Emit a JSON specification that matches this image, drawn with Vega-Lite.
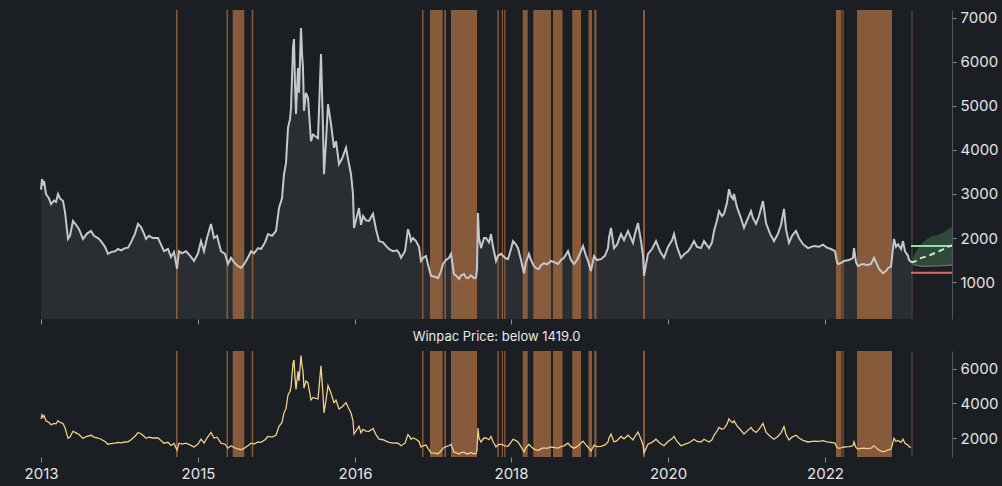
{
"$schema": "https://vega.github.io/schema/vega-lite/v6.json",
"background": "#1b1e22",
"padding": {"left": 24, "top": 9, "right": 20, "bottom": 20},
"bounds": "flush",
"spacing": 32,
"config": {
  "view": {"stroke": null},
  "font": "Inter",
  "axis": {"labelColor": "#e4e4e4", "labelFontSize": 15, "labelFont": "Inter", "tickColor": "#8a9097", "domainColor": "#4e545b", "grid": false, "labelFlush": false},
  "title": {"color": "#e8e8e8", "fontSize": 13, "fontWeight": "normal", "font": "Inter"}
},
"datasets": {
  "price": [
    {"i":0,"v":3100},{"i":1,"v":3340},{"i":2,"v":3200},{"i":3,"v":3300},{"i":5,"v":3000},{"i":8,"v":2900},{"i":10,"v":2770},{"i":13,"v":2850},{"i":15,"v":2820},{"i":17,"v":3000},{"i":19,"v":2900},{"i":22,"v":2840},{"i":24,"v":2600},{"i":27,"v":1980},{"i":29,"v":2050},{"i":32,"v":2390},{"i":35,"v":2300},{"i":38,"v":2200},{"i":42,"v":1980},{"i":46,"v":2100},{"i":50,"v":2160},{"i":53,"v":2050},{"i":57,"v":2000},{"i":60,"v":1930},{"i":64,"v":1800},{"i":67,"v":1640},{"i":70,"v":1680},{"i":74,"v":1700},{"i":77,"v":1750},{"i":80,"v":1720},{"i":84,"v":1770},{"i":87,"v":1780},{"i":90,"v":1900},{"i":94,"v":2100},{"i":97,"v":2320},{"i":100,"v":2250},{"i":103,"v":2100},{"i":105,"v":1980},{"i":108,"v":2050},{"i":112,"v":2000},{"i":117,"v":2000},{"i":120,"v":1850},{"i":123,"v":1700},{"i":127,"v":1750},{"i":130,"v":1570},{"i":133,"v":1680},{"i":136,"v":1300},{"i":138,"v":1700},{"i":141,"v":1650},{"i":145,"v":1700},{"i":149,"v":1600},{"i":153,"v":1480},{"i":157,"v":1650},{"i":160,"v":1930},{"i":163,"v":1700},{"i":166,"v":2000},{"i":170,"v":2320},{"i":173,"v":2000},{"i":176,"v":2050},{"i":180,"v":1700},{"i":184,"v":1640},{"i":187,"v":1410},{"i":190,"v":1550},{"i":193,"v":1450},{"i":196,"v":1380},{"i":200,"v":1320},{"i":203,"v":1400},{"i":205,"v":1480},{"i":208,"v":1600},{"i":210,"v":1700},{"i":213,"v":1650},{"i":217,"v":1770},{"i":220,"v":1750},{"i":224,"v":1900},{"i":227,"v":2090},{"i":231,"v":2050},{"i":235,"v":2160},{"i":238,"v":2680},{"i":241,"v":2900},{"i":243,"v":3450},{"i":245,"v":3700},{"i":247,"v":4500},{"i":249,"v":4700},{"i":250,"v":4950},{"i":252,"v":6320},{"i":253,"v":6520},{"i":254,"v":5500},{"i":255,"v":4820},{"i":257,"v":5860},{"i":258,"v":5300},{"i":260,"v":6770},{"i":261,"v":6200},{"i":262,"v":5860},{"i":263,"v":4890},{"i":265,"v":5300},{"i":267,"v":5180},{"i":270,"v":4200},{"i":272,"v":4350},{"i":275,"v":4300},{"i":277,"v":4270},{"i":280,"v":6180},{"i":282,"v":4500},{"i":283,"v":3450},{"i":285,"v":4200},{"i":287,"v":5040},{"i":290,"v":4590},{"i":293,"v":4050},{"i":295,"v":4200},{"i":298,"v":3680},{"i":301,"v":3800},{"i":305,"v":4050},{"i":307,"v":3800},{"i":310,"v":3450},{"i":312,"v":3000},{"i":313,"v":2230},{"i":316,"v":2500},{"i":318,"v":2680},{"i":320,"v":2300},{"i":322,"v":2500},{"i":325,"v":2400},{"i":328,"v":2390},{"i":332,"v":2550},{"i":335,"v":2200},{"i":338,"v":1930},{"i":342,"v":1900},{"i":345,"v":1820},{"i":348,"v":1750},{"i":352,"v":1700},{"i":356,"v":1720},{"i":358,"v":1660},{"i":360,"v":1550},{"i":364,"v":1700},{"i":367,"v":2200},{"i":369,"v":2050},{"i":370,"v":1930},{"i":372,"v":2000},{"i":375,"v":1930},{"i":378,"v":1800},{"i":380,"v":1480},{"i":382,"v":1550},{"i":385,"v":1590},{"i":387,"v":1400},{"i":390,"v":1140},{"i":394,"v":1120},{"i":397,"v":1090},{"i":400,"v":1250},{"i":402,"v":1410},{"i":405,"v":1500},{"i":408,"v":1550},{"i":410,"v":1640},{"i":413,"v":1180},{"i":415,"v":1150},{"i":418,"v":1070},{"i":420,"v":1150},{"i":423,"v":1180},{"i":425,"v":1100},{"i":427,"v":1090},{"i":430,"v":1150},{"i":433,"v":1090},{"i":435,"v":1100},{"i":436,"v":1300},{"i":437,"v":2570},{"i":438,"v":2000},{"i":440,"v":1770},{"i":443,"v":2000},{"i":445,"v":2000},{"i":448,"v":1900},{"i":450,"v":2090},{"i":452,"v":1800},{"i":455,"v":1480},{"i":457,"v":1600},{"i":460,"v":1640},{"i":464,"v":1550},{"i":467,"v":1520},{"i":470,"v":1750},{"i":472,"v":1930},{"i":475,"v":1850},{"i":477,"v":1770},{"i":480,"v":1500},{"i":483,"v":1200},{"i":485,"v":1450},{"i":488,"v":1640},{"i":490,"v":1500},{"i":493,"v":1360},{"i":496,"v":1300},{"i":498,"v":1300},{"i":500,"v":1380},{"i":503,"v":1430},{"i":506,"v":1400},{"i":510,"v":1480},{"i":514,"v":1440},{"i":517,"v":1410},{"i":520,"v":1500},{"i":523,"v":1550},{"i":527,"v":1700},{"i":530,"v":1500},{"i":533,"v":1410},{"i":536,"v":1500},{"i":539,"v":1650},{"i":542,"v":1820},{"i":545,"v":1600},{"i":547,"v":1480},{"i":550,"v":1250},{"i":553,"v":1590},{"i":556,"v":1500},{"i":560,"v":1520},{"i":564,"v":1600},{"i":567,"v":1770},{"i":568,"v":2000},{"i":570,"v":2230},{"i":573,"v":1770},{"i":576,"v":1850},{"i":580,"v":2090},{"i":583,"v":1950},{"i":587,"v":2160},{"i":589,"v":2050},{"i":592,"v":1890},{"i":594,"v":2100},{"i":597,"v":2340},{"i":600,"v":1930},{"i":602,"v":1600},{"i":603,"v":1140},{"i":605,"v":1400},{"i":607,"v":1640},{"i":611,"v":1750},{"i":615,"v":1930},{"i":619,"v":1700},{"i":623,"v":1550},{"i":627,"v":1800},{"i":631,"v":1950},{"i":633,"v":2090},{"i":636,"v":1800},{"i":640,"v":1550},{"i":644,"v":1650},{"i":647,"v":1700},{"i":650,"v":1800},{"i":653,"v":1930},{"i":656,"v":1800},{"i":660,"v":1770},{"i":663,"v":1930},{"i":668,"v":1770},{"i":671,"v":1900},{"i":673,"v":2160},{"i":676,"v":2400},{"i":678,"v":2610},{"i":681,"v":2500},{"i":683,"v":2550},{"i":686,"v":2800},{"i":688,"v":3110},{"i":690,"v":2950},{"i":692,"v":2890},{"i":693,"v":3000},{"i":696,"v":2700},{"i":700,"v":2450},{"i":703,"v":2230},{"i":706,"v":2400},{"i":710,"v":2610},{"i":712,"v":2450},{"i":715,"v":2320},{"i":718,"v":2500},{"i":722,"v":2840},{"i":725,"v":2340},{"i":729,"v":2100},{"i":733,"v":1930},{"i":737,"v":2100},{"i":740,"v":2300},{"i":743,"v":2660},{"i":745,"v":2200},{"i":748,"v":1890},{"i":751,"v":2050},{"i":755,"v":2160},{"i":758,"v":2000},{"i":762,"v":1860},{"i":767,"v":1770},{"i":773,"v":1820},{"i":778,"v":1800},{"i":782,"v":1850},{"i":786,"v":1780},{"i":790,"v":1750},{"i":794,"v":1700},{"i":796,"v":1450},{"i":797,"v":1410},{"i":800,"v":1430},{"i":803,"v":1480},{"i":808,"v":1500},{"i":812,"v":1550},{"i":813,"v":1770},{"i":815,"v":1450},{"i":817,"v":1360},{"i":820,"v":1400},{"i":823,"v":1410},{"i":826,"v":1380},{"i":830,"v":1410},{"i":833,"v":1550},{"i":836,"v":1400},{"i":838,"v":1300},{"i":842,"v":1200},{"i":845,"v":1250},{"i":847,"v":1320},{"i":850,"v":1350},{"i":853,"v":1980},{"i":855,"v":1800},{"i":857,"v":1860},{"i":860,"v":1750},{"i":862,"v":1930},{"i":864,"v":1700},{"i":865,"v":1660},{"i":867,"v":1600},{"i":868,"v":1500},{"i":870,"v":1460}
  ],
  "bands": [
    {"s":135,"e":136.6},{"s":185.5,"e":187},{"s":191.7,"e":203.3},{"s":210.7,"e":212.3},{"s":381,"e":382.5},{"s":389,"e":401.7},{"s":403.3,"e":405},{"s":410,"e":436},{"s":456.3,"e":457.8},{"s":460.8,"e":462},{"s":463.2,"e":464.5},{"s":481.7,"e":486.7},{"s":492.3,"e":510},{"s":512,"e":521.5},{"s":531.3,"e":540},{"s":547.5,"e":551},{"s":553.3,"e":555.5},{"s":602,"e":604},{"s":795,"e":800.5},{"s":801.5,"e":802.7},{"s":816,"e":851}
  ],
  "fc": [
    {"i":870,"lo":1440,"hi":1480,"med":1460},{"i":872,"lo":1400,"hi":1560,"med":1450},{"i":875,"lo":1380,"hi":1700,"med":1480},{"i":878,"lo":1370,"hi":1800,"med":1530},{"i":882,"lo":1360,"hi":1900,"med":1560},{"i":886,"lo":1360,"hi":1980,"med":1580},{"i":890,"lo":1365,"hi":2030,"med":1620},{"i":894,"lo":1370,"hi":2050,"med":1660},{"i":898,"lo":1370,"hi":2080,"med":1700},{"i":902,"lo":1375,"hi":2120,"med":1740},{"i":906,"lo":1375,"hi":2180,"med":1790},{"i":909,"lo":1380,"hi":2230,"med":1820},{"i":911,"lo":1380,"hi":2250,"med":1830}
  ],
  "levels": [
    {"a":870,"b":911,"v":1820,"k":"upper"},{"a":870,"b":911,"v":1210,"k":"lower"}
  ],
  "today": [{"i":871}]
},
"vconcat": [
  {
    "width": 911, "height": 309,
    "layer": [
      {"data": {"name": "price"}, "mark": {"type": "area", "color": "#2a2d32"},
       "encoding": {
         "x": {"field": "i", "type": "quantitative", "scale": {"domain": [0, 911], "nice": false, "zero": false},
               "axis": {"values": [0,157,314,470,627,784], "labels": false, "domain": false, "tickSize": 5, "title": null}},
         "y": {"field": "v", "type": "quantitative", "scale": {"domain": [160, 7180], "nice": false, "zero": false},
               "axis": {"orient": "right", "values": [1000,2000,3000,4000,5000,6000,7000], "format": "d", "title": null, "tickSize": 4, "labelPadding": 4}},
         "y2": {"datum": 160}}},
      {"data": {"name": "bands"}, "mark": {"type": "rect", "color": "#8c5e3c", "opacity": 0.95},
       "encoding": {"x": {"field": "s", "type": "quantitative"}, "x2": {"field": "e"}}},
      {"data": {"name": "fc"}, "mark": {"type": "area", "color": "#36503f", "opacity": 0.85},
       "encoding": {"x": {"field": "i", "type": "quantitative"}, "y": {"field": "lo", "type": "quantitative"}, "y2": {"field": "hi"}}},
      {"data": {"name": "fc"}, "mark": {"type": "line", "color": "#5e6b64", "strokeWidth": 1.5},
       "encoding": {"x": {"field": "i", "type": "quantitative"}, "y": {"field": "lo", "type": "quantitative"}}},
      {"data": {"name": "today"}, "mark": {"type": "rule", "color": "#4a3d31", "strokeWidth": 1.5},
       "encoding": {"x": {"field": "i", "type": "quantitative"}}},
      {"data": {"name": "price"}, "mark": {"type": "line", "color": "#c4c8cc", "strokeWidth": 2},
       "encoding": {"x": {"field": "i", "type": "quantitative"}, "y": {"field": "v", "type": "quantitative"}}},
      {"data": {"name": "levels"}, "mark": {"type": "rule", "strokeWidth": 2},
       "encoding": {"x": {"field": "a", "type": "quantitative"}, "x2": {"field": "b"}, "y": {"field": "v", "type": "quantitative"},
                    "color": {"field": "k", "type": "nominal", "scale": {"domain": ["upper","lower"], "range": ["#8fe3a9","#e06a6a"]}, "legend": null}}},
      {"data": {"name": "fc"}, "mark": {"type": "line", "color": "#b6f0c6", "strokeWidth": 2, "strokeDash": [6,4]},
       "encoding": {"x": {"field": "i", "type": "quantitative"}, "y": {"field": "med", "type": "quantitative"}}}
    ]
  },
  {
    "width": 911, "height": 106,
    "title": {"text": "Winpac Price: below 1419.0", "anchor": "middle", "offset": 6},
    "layer": [
      {"data": {"name": "bands"}, "mark": {"type": "rect", "color": "#8c5e3c", "opacity": 0.95},
       "encoding": {"x": {"field": "s", "type": "quantitative", "scale": {"domain": [0, 911], "nice": false, "zero": false},
               "axis": {"values": [0,157,314,470,627,784], "domain": false, "tickSize": 5, "title": null, "labelPadding": 4,
                        "labelExpr": "datum.value==0?'2013':datum.value==157?'2015':datum.value==314?'2016':datum.value==470?'2018':datum.value==627?'2020':'2022'"}},
                    "x2": {"field": "e"}}},
      {"data": {"name": "today"}, "mark": {"type": "rule", "color": "#4a3d31", "strokeWidth": 1.5},
       "encoding": {"x": {"field": "i", "type": "quantitative"}}},
      {"data": {"name": "price"}, "mark": {"type": "line", "color": "#f0cf8c", "strokeWidth": 1.3},
       "encoding": {"x": {"field": "i", "type": "quantitative"},
                    "y": {"field": "v", "type": "quantitative", "scale": {"domain": [900, 7040], "nice": false, "zero": false},
                          "axis": {"orient": "right", "values": [2000,4000,6000], "format": "d", "title": null, "tickSize": 4, "labelPadding": 4}}}}
    ]
  }
]
}
